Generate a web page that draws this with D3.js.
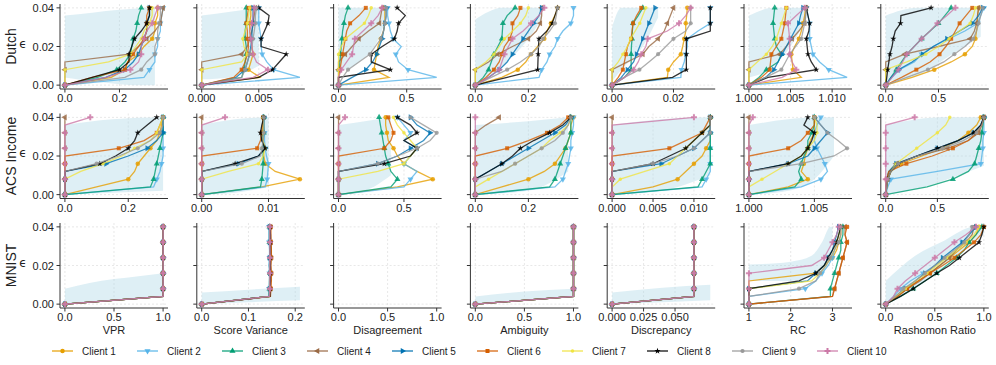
<!DOCTYPE html>
<html>
<head>
<meta charset="utf-8">
<script src="https://cdn.jsdelivr.net/npm/d3@7"></script>
<style>
  body { margin: 0; background: #fff; }
  text { font-family: "Liberation Sans", Arial, sans-serif; fill: #222; }
</style>
</head>
<body>
<div class="container"></div>
<script>
// names
const clients = ["Client 1", "Client 2", "Client 3", "Client 4", "Client 5",
  "Client 6", "Client 7", "Client 8", "Client 9", "Client 10"];
const datasets = ["Dutch", "ACS Income", "MNIST"];
const metrics = ["VPR", "Score Variance", "Disagreement", "Ambiguity", "Discrepancy", "RC", "Rashomon Ratio"];
const epsilons = [0, 0.004, 0.008, 0.012, 0.016, 0.02, 0.024, 0.028, 0.032, 0.036, 0.04];
const yTicks = [0, 0.02, 0.04];
const yTickLabels = ["0.00", "0.02", "0.04"];

// ---- Dutch ----
const dutchVPR = [
  [0, 0.17, 0.22, 0.23, 0.27, 0.29, 0.32, 0.33, 0.33, 0.34, 0.34],
  [0, 0.29, 0.31, 0.33, 0.33, 0.34, 0.34, 0.35, 0.35, 0.355, 0.36],
  [0, 0.12, 0.19, 0.22, 0.24, 0.245, 0.25, 0.26, 0.265, 0.27, 0.28],
  [0, 0, 0, 0, 0.236, 0.27, 0.30, 0.33, 0.35, 0.355, 0.36],
  [0, 0.15, 0.22, 0.25, 0.27, 0.28, 0.29, 0.30, 0.30, 0.31, 0.31],
  [0, 0.10, 0.22, 0.23, 0.25, 0.27, 0.29, 0.30, 0.30, 0.30, 0.31],
  [0, 0, 0, 0.16, 0.24, 0.26, 0.28, 0.29, 0.31, 0.32, 0.32],
  [0, 0.10, 0.20, 0.235, 0.235, 0.245, 0.255, 0.28, 0.30, 0.31, 0.31],
  [0, 0.22, 0.28, 0.30, 0.33, 0.33, 0.34, 0.34, 0.345, 0.35, 0.35],
  [0, 0.15, 0.24, 0.27, 0.28, 0.28, 0.29, 0.30, 0.32, 0.33, 0.34]
];
const dutchSV = [
  [0, 0.0051, 0.0041, 0.0043, 0.0045, 0.0044, 0.0043, 0.0042, 0.0042, 0.0043, 0.0043],
  [0, 0.0086, 0.0063, 0.0057, 0.0053, 0.0052, 0.0052, 0.0051, 0.005, 0.005, 0.005],
  [0, 0.0035, 0.0037, 0.0038, 0.0039, 0.0039, 0.0038, 0.0038, 0.0039, 0.0039, 0.0039],
  [0, 0, 0, 0, 0.0035, 0.004, 0.0042, 0.0044, 0.0045, 0.0046, 0.0047],
  [0, 0.003, 0.0038, 0.004, 0.0042, 0.0043, 0.0044, 0.0044, 0.0045, 0.0045, 0.0045],
  [0, 0.0028, 0.0035, 0.0038, 0.004, 0.0041, 0.004, 0.004, 0.0039, 0.004, 0.0041],
  [0, 0, 0, 0.0035, 0.004, 0.0037, 0.0036, 0.0038, 0.004, 0.0041, 0.0042],
  [0, 0.005, 0.0062, 0.0068, 0.0074, 0.0052, 0.0052, 0.0055, 0.0058, 0.0059, 0.005],
  [0, 0.0035, 0.0038, 0.004, 0.0042, 0.0044, 0.0045, 0.0046, 0.0047, 0.0047, 0.0048],
  [0, 0.0045, 0.0058, 0.0048, 0.0045, 0.0044, 0.0043, 0.0042, 0.0044, 0.0045, 0.0046]
];
const dutchDis = [
  [0, 0.37, 0.26, 0.27, 0.28, 0.29, 0.31, 0.33, 0.34, 0.34, 0.34],
  [0, 0.72, 0.51, 0.44, 0.42, 0.46, 0.40, 0.38, 0.37, 0.36, 0.36],
  [0, 0, 0.005, 0.01, 0.015, 0.02, 0.025, 0.03, 0.04, 0.05, 0.07],
  [0, 0, 0, 0, 0.05, 0.10, 0.15, 0.22, 0.30, 0.31, 0.32],
  [0, 0.10, 0.20, 0.25, 0.28, 0.30, 0.32, 0.33, 0.34, 0.35, 0.35],
  [0, 0, 0.01, 0.02, 0.03, 0.04, 0.05, 0.06, 0.085, 0.15, 0.20],
  [0, 0, 0, 0, 0, 0.02, 0.05, 0.12, 0.19, 0.22, 0.24],
  [0, 0, 0.38, 0.24, 0.24, 0.32, 0.41, 0.43, 0.44, 0.49, 0.43],
  [0, 0.03, 0.07, 0.15, 0.23, 0.27, 0.31, 0.33, 0.34, 0.35, 0.35],
  [0, 0, 0.02, 0.06, 0.10, 0.11, 0.12, 0.18, 0.24, 0.29, 0.32]
];
const dutchAmb = [
  [0, 0.10, 0.16, 0.19, 0.21, 0.235, 0.26, 0.27, 0.285, 0.30, 0.31],
  [0, 0.24, 0.25, 0.27, 0.28, 0.30, 0.31, 0.33, 0.36, 0.37, 0.37],
  [0, 0.03, 0.05, 0.06, 0.07, 0.085, 0.10, 0.102, 0.104, 0.12, 0.15],
  [0, 0, 0, 0.05, 0.085, 0.14, 0.20, 0.23, 0.245, 0.25, 0.25],
  [0, 0.05, 0.09, 0.12, 0.14, 0.16, 0.18, 0.20, 0.22, 0.24, 0.25],
  [0, 0.04, 0.07, 0.09, 0.10, 0.11, 0.13, 0.14, 0.14, 0.16, 0.17],
  [0, 0, 0, 0.04, 0.07, 0.09, 0.11, 0.14, 0.17, 0.19, 0.20],
  [0, 0.12, 0.235, 0.236, 0.237, 0.238, 0.24, 0.27, 0.29, 0.30, 0.31],
  [0, 0.06, 0.12, 0.17, 0.21, 0.24, 0.255, 0.28, 0.30, 0.305, 0.31],
  [0, 0.05, 0.09, 0.10, 0.11, 0.125, 0.14, 0.18, 0.21, 0.24, 0.26]
];
const dutchDisc = [
  [0, 0.018, 0.0183, 0.02, 0.0224, 0.023, 0.0235, 0.024, 0.024, 0.0243, 0.0245],
  [0, 0.0224, 0.0226, 0.0235, 0.024, 0.0245, 0.0245, 0.028, 0.032, 0.032, 0.032],
  [0, 0.004, 0.0062, 0.0062, 0.0062, 0.0063, 0.0065, 0.0066, 0.0068, 0.0085, 0.010],
  [0, 0, 0, 0.005, 0.010, 0.012, 0.015, 0.017, 0.018, 0.019, 0.020],
  [0, 0.003, 0.005, 0.007, 0.008, 0.009, 0.010, 0.011, 0.012, 0.013, 0.014],
  [0, 0.002, 0.0035, 0.004, 0.0045, 0.005, 0.0062, 0.0065, 0.0068, 0.008, 0.0095],
  [0, 0, 0, 0.002, 0.0035, 0.005, 0.006, 0.0075, 0.009, 0.010, 0.011],
  [0, 0.0197, 0.0242, 0.0242, 0.0242, 0.0242, 0.0242, 0.032, 0.032, 0.032, 0.032],
  [0, 0.004, 0.0089, 0.012, 0.015, 0.0175, 0.020, 0.024, 0.0256, 0.0256, 0.0256],
  [0, 0.004, 0.007, 0.0085, 0.0095, 0.011, 0.0116, 0.018, 0.0218, 0.024, 0.0256]
];
const dutchRC = [
  [1, 1.0063, 1.0053, 1.0052, 1.0051, 1.0055, 1.006, 1.0063, 1.0065, 1.0067, 1.0068],
  [1, 1.0118, 1.0096, 1.0085, 1.0077, 1.0075, 1.0073, 1.0073, 1.0073, 1.0071, 1.0069],
  [1, 1.0012, 1.0021, 1.0035, 1.0039, 1.0033, 1.0031, 1.003, 1.0029, 1.003, 1.0031],
  [1, 1, 1, 1, 1.0037, 1.0045, 1.0052, 1.006, 1.0067, 1.0068, 1.0069],
  [1, 1.002, 1.003, 1.0035, 1.004, 1.0045, 1.005, 1.0055, 1.006, 1.0062, 1.0065],
  [1, 1.0015, 1.0025, 1.0026, 1.0027, 1.0033, 1.0039, 1.0041, 1.0043, 1.0044, 1.0045],
  [1, 1, 1, 1.001, 1.0021, 1.0028, 1.0033, 1.0036, 1.0039, 1.0042, 1.0045],
  [1, 1.0023, 1.0081, 1.0075, 1.0071, 1.007, 1.0069, 1.0072, 1.0073, 1.0071, 1.0069],
  [1, 1.002, 1.0039, 1.0044, 1.0049, 1.0056, 1.0063, 1.0065, 1.0067, 1.0068, 1.0069],
  [1, 1.004, 1.0057, 1.0052, 1.0049, 1.0049, 1.0049, 1.0048, 1.0047, 1.0057, 1.0067]
];
const dutchRR = [
  [0, 0.25, 0.46, 0.62, 0.75, 0.82, 0.85, 0.86, 0.87, 0.87, 0.88],
  [0, 0.06, 0.13, 0.27, 0.34, 0.45, 0.60, 0.75, 0.87, 0.90, 0.93],
  [0, 0.05, 0.10, 0.15, 0.20, 0.27, 0.34, 0.42, 0.50, 0.56, 0.62],
  [0, 0, 0, 0, 0.18, 0.50, 0.80, 0.84, 0.86, 0.87, 0.88],
  [0, 0.05, 0.12, 0.25, 0.35, 0.45, 0.58, 0.70, 0.82, 0.88, 0.92],
  [0, 0.15, 0.29, 0.42, 0.51, 0.57, 0.62, 0.66, 0.70, 0.76, 0.82],
  [0, 0, 0, 0.20, 0.38, 0.50, 0.60, 0.70, 0.80, 0.83, 0.85],
  [0, 0.01, 0.019, 0.03, 0.04, 0.06, 0.072, 0.09, 0.14, 0.144, 0.43],
  [0, 0.20, 0.40, 0.55, 0.65, 0.75, 0.83, 0.86, 0.88, 0.90, 0.92],
  [0, 0.06, 0.12, 0.16, 0.20, 0.27, 0.34, 0.42, 0.49, 0.58, 0.66]
];

// ---- ACS Income ----
const acsVPR = [
  [0, 0.10, 0.20, 0.22, 0.23, 0.25, 0.27, 0.29, 0.30, 0.305, 0.31],
  [0, 0.28, 0.29, 0.30, 0.305, 0.31, 0.31, 0.31, 0.31, 0.31, 0.31],
  [0, 0.27, 0.28, 0.285, 0.29, 0.295, 0.30, 0.305, 0.31, 0.31, 0.31],
  [0, 0, 0, 0, 0, 0, 0, 0, 0, 0, 0],
  [0, 0, 0, 0, 0.13, 0.20, 0.26, 0.29, 0.31, 0.31, 0.31],
  [0, 0, 0, 0, 0, 0, 0.17, 0.25, 0.29, 0.30, 0.31],
  [0, 0, 0, 0.05, 0.12, 0.18, 0.22, 0.27, 0.29, 0.30, 0.31],
  [0, 0, 0, 0, 0.11, 0.16, 0.20, 0.22, 0.23, 0.26, 0.29],
  [0, 0, 0, 0, 0.10, 0.17, 0.23, 0.27, 0.30, 0.31, 0.31],
  [0, 0, 0, 0, 0, 0, 0, 0, 0, 0, 0.08]
];
const acsSV = [
  [0, 0.009, 0.0147, 0.011, 0.0095, 0.0093, 0.0092, 0.0092, 0.0092, 0.0092, 0.0092],
  [0, 0.0095, 0.0098, 0.0099, 0.010, 0.0097, 0.0095, 0.0094, 0.0094, 0.0093, 0.0093],
  [0, 0.0088, 0.009, 0.0091, 0.0092, 0.0092, 0.0092, 0.0092, 0.0093, 0.0093, 0.0093],
  [0, 0, 0, 0, 0, 0, 0, 0, 0, 0, 0],
  [0, 0, 0, 0, 0.0055, 0.0085, 0.0095, 0.009, 0.0092, 0.0092, 0.0093],
  [0, 0, 0, 0, 0, 0, 0.0083, 0.0088, 0.009, 0.0091, 0.0092],
  [0, 0, 0, 0.004, 0.0085, 0.0092, 0.0095, 0.0092, 0.0092, 0.0092, 0.0092],
  [0, 0, 0, 0, 0.005, 0.0085, 0.0095, 0.009, 0.0088, 0.009, 0.0093],
  [0, 0, 0, 0, 0.006, 0.0088, 0.009, 0.0092, 0.0093, 0.0093, 0.0093],
  [0, 0, 0, 0, 0, 0, 0, 0, 0, 0, 0.0035]
];
const acsDis = [
  [0, 0.45, 0.72, 0.60, 0.50, 0.45, 0.42, 0.38, 0.37, 0.36, 0.36],
  [0, 0.50, 0.55, 0.60, 0.50, 0.55, 0.60, 0.50, 0.55, 0.50, 0.45],
  [0, 0.40, 0.45, 0.40, 0.38, 0.36, 0.35, 0.34, 0.33, 0.32, 0.31],
  [0, 0, 0, 0, 0, 0, 0, 0, 0, 0, 0],
  [0, 0, 0, 0, 0.30, 0.45, 0.55, 0.65, 0.70, 0.60, 0.55],
  [0, 0, 0, 0, 0, 0, 0.35, 0.40, 0.42, 0.40, 0.38],
  [0, 0, 0, 0.30, 0.50, 0.55, 0.60, 0.55, 0.50, 0.45, 0.42],
  [0, 0, 0, 0, 0.35, 0.55, 0.60, 0.50, 0.60, 0.55, 0.45],
  [0, 0, 0, 0, 0.30, 0.45, 0.60, 0.70, 0.75, 0.65, 0.55],
  [0, 0, 0, 0, 0, 0, 0, 0, 0, 0, 0.05]
];
const acsAmb = [
  [0, 0.10, 0.20, 0.26, 0.30, 0.32, 0.34, 0.35, 0.36, 0.36, 0.37],
  [0, 0.30, 0.33, 0.34, 0.35, 0.355, 0.36, 0.36, 0.365, 0.37, 0.37],
  [0, 0.28, 0.30, 0.31, 0.32, 0.33, 0.34, 0.35, 0.36, 0.36, 0.36],
  [0, 0, 0, 0, 0, 0, 0, 0, 0, 0.04, 0.09],
  [0, 0, 0, 0.05, 0.10, 0.15, 0.20, 0.25, 0.30, 0.34, 0.36],
  [0, 0, 0, 0, 0, 0, 0.12, 0.20, 0.27, 0.32, 0.35],
  [0, 0, 0.05, 0.10, 0.15, 0.20, 0.25, 0.28, 0.32, 0.35, 0.36],
  [0, 0, 0, 0.05, 0.10, 0.14, 0.17, 0.22, 0.28, 0.33, 0.36],
  [0, 0, 0, 0.10, 0.15, 0.20, 0.25, 0.30, 0.33, 0.35, 0.36],
  [0, 0, 0, 0, 0, 0, 0, 0, 0, 0, 0]
];
const acsDisc = [
  [0, 0.005, 0.008, 0.009, 0.010, 0.011, 0.0115, 0.012, 0.012, 0.012, 0.012],
  [0, 0.011, 0.0115, 0.012, 0.012, 0.012, 0.012, 0.012, 0.012, 0.012, 0.012],
  [0, 0.0105, 0.011, 0.0115, 0.012, 0.012, 0.012, 0.012, 0.012, 0.012, 0.012],
  [0, 0, 0, 0, 0, 0, 0, 0, 0, 0, 0],
  [0, 0, 0, 0, 0.006, 0.008, 0.010, 0.011, 0.012, 0.012, 0.012],
  [0, 0, 0, 0, 0, 0, 0.007, 0.009, 0.011, 0.0115, 0.012],
  [0, 0, 0.001, 0.004, 0.007, 0.008, 0.009, 0.010, 0.011, 0.012, 0.012],
  [0, 0, 0, 0, 0.005, 0.007, 0.009, 0.010, 0.011, 0.012, 0.012],
  [0, 0, 0, 0, 0.005, 0.008, 0.010, 0.011, 0.012, 0.012, 0.012],
  [0, 0, 0, 0, 0, 0, 0, 0, 0, 0, 0.010]
];
const acsRC = [
  [1, 1.003, 1.0045, 1.004, 1.0042, 1.0043, 1.0045, 1.0047, 1.005, 1.005, 1.005],
  [1, 1.004, 1.0055, 1.006, 1.0058, 1.0055, 1.0052, 1.005, 1.005, 1.0052, 1.0055],
  [1, 1.0035, 1.004, 1.0038, 1.004, 1.0042, 1.0045, 1.0045, 1.0048, 1.005, 1.005],
  [1, 1, 1, 1, 1, 1, 1, 1, 1, 1, 1],
  [1, 1, 1, 1, 1.003, 1.0045, 1.005, 1.0055, 1.006, 1.0055, 1.005],
  [1, 1, 1, 1, 1, 1, 1.003, 1.004, 1.0045, 1.005, 1.005],
  [1, 1, 1.001, 1.002, 1.003, 1.004, 1.0045, 1.005, 1.0052, 1.0052, 1.005],
  [1, 1, 1, 1, 1.003, 1.004, 1.0045, 1.0048, 1.005, 1.0042, 1.0045],
  [1, 1, 1, 1, 1.004, 1.0065, 1.0075, 1.0068, 1.006, 1.0055, 1.005],
  [1, 1, 1, 1, 1, 1, 1, 1, 1, 1, 1.0003]
];
const acsRR = [
  [0, 0.01, 0.02, 0.05, 0.15, 0.35, 0.55, 0.70, 0.80, 0.88, 0.92],
  [0, 0.02, 0.05, 0.50, 0.92, 0.93, 0.94, 0.94, 0.95, 0.95, 0.95],
  [0, 0.40, 0.65, 0.80, 0.86, 0.88, 0.90, 0.92, 0.93, 0.94, 0.95],
  [0, 0, 0.01, 0.03, 0.10, 0.30, 0.60, 0.80, 0.90, 0.93, 0.95],
  [0, 0, 0.01, 0.03, 0.10, 0.30, 0.50, 0.70, 0.85, 0.92, 0.95],
  [0, 0, 0.01, 0.03, 0.20, 0.45, 0.65, 0.80, 0.88, 0.93, 0.95],
  [0, 0.01, 0.02, 0.05, 0.10, 0.20, 0.30, 0.40, 0.50, 0.58, 0.62],
  [0, 0.01, 0.02, 0.05, 0.12, 0.30, 0.50, 0.70, 0.85, 0.92, 0.95],
  [0, 0.01, 0.02, 0.05, 0.12, 0.30, 0.55, 0.75, 0.88, 0.93, 0.95],
  [0, 0, 0, 0, 0, 0, 0, 0, 0, 0, 0.28]
];

// ---- MNIST ----
const mnistFlatLine = [0, 1, 1, 1, 1, 1, 1, 1, 1, 1, 1];
const mnistVPR = [mnistFlatLine, mnistFlatLine, mnistFlatLine, mnistFlatLine, mnistFlatLine,
  mnistFlatLine, mnistFlatLine, mnistFlatLine, mnistFlatLine, mnistFlatLine];
const mnistSV = [
  [0, 0.145, 0.146, 0.147, 0.147, 0.146, 0.147, 0.148, 0.147, 0.146, 0.145],
  [0, 0.143, 0.144, 0.145, 0.145, 0.144, 0.145, 0.145, 0.144, 0.144, 0.144],
  [0, 0.144, 0.145, 0.145, 0.146, 0.145, 0.146, 0.146, 0.145, 0.145, 0.145],
  [0, 0.146, 0.147, 0.148, 0.148, 0.147, 0.148, 0.149, 0.148, 0.147, 0.147],
  [0, 0.144, 0.145, 0.146, 0.146, 0.145, 0.145, 0.146, 0.145, 0.145, 0.145],
  [0, 0.147, 0.148, 0.149, 0.149, 0.148, 0.149, 0.149, 0.148, 0.148, 0.148],
  [0, 0.145, 0.145, 0.146, 0.146, 0.146, 0.146, 0.147, 0.146, 0.146, 0.146],
  [0, 0.146, 0.146, 0.147, 0.147, 0.147, 0.147, 0.147, 0.147, 0.147, 0.146],
  [0, 0.144, 0.145, 0.145, 0.145, 0.145, 0.146, 0.146, 0.145, 0.145, 0.145],
  [0, 0.145, 0.146, 0.146, 0.146, 0.146, 0.146, 0.146, 0.146, 0.146, 0.146]
];
const mnistDis = [];
const mnistAmb = mnistVPR;
const mnistDiscLine = [0, 0.065, 0.065, 0.065, 0.065, 0.065, 0.065, 0.065, 0.065, 0.065, 0.065];
const mnistDisc = [mnistDiscLine, mnistDiscLine, mnistDiscLine, mnistDiscLine, mnistDiscLine,
  mnistDiscLine, mnistDiscLine, mnistDiscLine, mnistDiscLine, mnistDiscLine];
const mnistRC = [
  [1, 1, 1, 1, 2.6, 2.8, 3.0, 3.1, 3.15, 3.2, 3.2],
  [1, 1, 2.35, 2.6, 2.75, 2.9, 3.0, 3.05, 3.1, 3.15, 3.2],
  [1, 2.95, 2.95, 3.0, 3.05, 3.1, 3.15, 3.2, 3.2, 3.25, 3.25],
  [1, 3.0, 3.05, 3.1, 3.15, 3.2, 3.25, 3.3, 3.35, 3.3, 3.3],
  [1, 1, 1, 2.4, 2.6, 2.8, 2.9, 3.0, 3.05, 3.1, 3.15],
  [1, 3.0, 3.05, 3.1, 3.15, 3.2, 3.25, 3.3, 3.35, 3.3, 3.35],
  [1, 1, 1, 2.5, 2.7, 2.85, 2.95, 3.05, 3.1, 3.15, 3.2],
  [1, 1, 1, 2.2, 2.6, 2.8, 2.9, 3.0, 3.1, 3.15, 3.2],
  [1, 1, 2.2, 2.6, 2.7, 2.85, 2.95, 3.05, 3.15, 3.2, 3.2],
  [1, 1, 1, 1, 1, 2.5, 2.8, 2.9, 3.0, 3.1, 3.15]
];
const mnistRR = [
  [0, 0.10, 0.20, 0.33, 0.45, 0.55, 0.65, 0.75, 0.85, 0.92, 0.95],
  [0, 0.08, 0.15, 0.25, 0.38, 0.50, 0.62, 0.72, 0.78, 0.85, 0.90],
  [0, 0.15, 0.28, 0.40, 0.52, 0.62, 0.72, 0.80, 0.85, 0.92, 0.98],
  [0, 0.12, 0.22, 0.35, 0.45, 0.55, 0.65, 0.72, 0.82, 0.88, 0.90],
  [0, 0.10, 0.20, 0.30, 0.40, 0.50, 0.58, 0.68, 0.78, 0.85, 0.92],
  [0, 0.12, 0.22, 0.33, 0.45, 0.58, 0.70, 0.80, 0.90, 0.97, 1.0],
  [0, 0.10, 0.20, 0.30, 0.42, 0.52, 0.62, 0.72, 0.82, 0.90, 0.95],
  [0, 0.15, 0.28, 0.40, 0.52, 0.65, 0.75, 0.85, 0.95, 0.98, 1.0],
  [0, 0.10, 0.18, 0.30, 0.40, 0.50, 0.60, 0.70, 0.80, 0.85, 0.88],
  [0, 0.08, 0.12, 0.20, 0.30, 0.40, 0.50, 0.60, 0.70, 0.82, 0.92]
];

// shaded bands: [x values, lower eps, upper eps]
const dutchBands = [
  [[0, 0.1, 0.2, 0.25, 0.33], [0.004, 0.002, 0.0005, 0, 0], [0.036, 0.0375, 0.039, 0.0395, 0.04]],
  [[0, 0.0025, 0.005], [0.003, 0.004, 0.01], [0.036, 0.038, 0.04]],
  [[0, 0.15, 0.3, 0.35], [0.007, 0.012, 0.025, 0.035], [0.04, 0.04, 0.04, 0.04]],
  [[0, 0.05, 0.1, 0.15, 0.2, 0.25], [0.001, 0.004, 0.01, 0.016, 0.024, 0.034], [0.034, 0.038, 0.04, 0.04, 0.04, 0.04]],
  [[0, 0.003, 0.01, 0.015], [0.002, 0.008, 0.02, 0.035], [0.03, 0.04, 0.04, 0.04]],
  [[1, 1.003, 1.005, 1.007], [0.004, 0.01, 0.02, 0.035], [0.036, 0.04, 0.04, 0.04]],
  [[0, 0.3, 0.6, 0.9], [0.002, 0.005, 0.015, 0.025], [0.036, 0.04, 0.04, 0.04]]
];
const acsBands = [
  [[0, 0.15, 0.31], [0, 0.001, 0.002], [0.036, 0.039, 0.04]],
  [[0, 0.005, 0.01], [0, 0.001, 0.004], [0.036, 0.039, 0.04]],
  [[0, 0.2, 0.4], [0, 0.002, 0.01], [0.036, 0.038, 0.04]],
  [[0, 0.2, 0.35], [0, 0.002, 0.012], [0.036, 0.038, 0.04]],
  [[0, 0.006, 0.012], [0, 0.002, 0.01], [0.036, 0.039, 0.04]],
  [[1, 1.003, 1.005, 1.0065], [0, 0.002, 0.008, 0.02], [0.036, 0.039, 0.04, 0.04]],
  [[0, 0.3, 0.6, 0.95], [0, 0.003, 0.008, 0.015], [0.036, 0.039, 0.04, 0.04]]
];
const mnistBands = [
  [[0, 0.25, 0.5, 0.75, 1], [0, 0.001, 0.002, 0.003, 0.004], [0.008, 0.011, 0.013, 0.0145, 0.016]],
  [[0, 0.1, 0.21], [0, 0.001, 0.002], [0.006, 0.0075, 0.009]],
  null,
  [[0, 0.5, 1], [0, 0.002, 0.004], [0.004, 0.0065, 0.008]],
  [[0, 0.04, 0.078], [0, 0.001, 0.002], [0.006, 0.0085, 0.01]],
  [[1, 2, 2.5, 2.75, 2.95, 3.0], [0.012, 0.012, 0.014, 0.016, 0.025, 0.035], [0.0205, 0.022, 0.025, 0.032, 0.04, 0.04]],
  [[0, 0.3, 0.6, 0.9, 1.0], [0, 0.008, 0.02, 0.032, 0.036], [0.012, 0.025, 0.033, 0.04, 0.04]]
];

// x tick values and labels for every panel, row by row
const xTicks = [
  [[0, 0.2], [0, 0.005], [0, 0.5], [0, 0.2], [0, 0.02], [1, 1.005, 1.01], [0, 0.5]],
  [[0, 0.2], [0, 0.01], [0, 0.5], [0, 0.2], [0, 0.005, 0.01], [1, 1.005], [0, 0.5]],
  [[0, 0.5, 1], [0, 0.1, 0.2], [0, 0.5, 1], [0, 0.5, 1], [0, 0.025, 0.05], [1, 2, 3], [0, 0.5, 1]]
];
const xTickLabels = [
  [["0.0", "0.2"], ["0.000", "0.005"], ["0.0", "0.5"], ["0.0", "0.2"], ["0.00", "0.02"], ["1.000", "1.005", "1.010"], ["0.0", "0.5"]],
  [["0.0", "0.2"], ["0.00", "0.01"], ["0.0", "0.5"], ["0.0", "0.2"], ["0.000", "0.005", "0.010"], ["1.000", "1.005"], ["0.0", "0.5"]],
  [["0.0", "0.5", "1.0"], ["0.0", "0.1", "0.2"], ["0.0", "0.5", "1.0"], ["0.0", "0.5", "1.0"], ["0.000", "0.025", "0.050"], ["1", "2", "3"], ["0.0", "0.5", "1.0"]]
];

const series = [
  [dutchVPR, dutchSV, dutchDis, dutchAmb, dutchDisc, dutchRC, dutchRR],
  [acsVPR, acsSV, acsDis, acsAmb, acsDisc, acsRC, acsRR],
  [mnistVPR, mnistSV, mnistDis, mnistAmb, mnistDisc, mnistRC, mnistRR]
];
const bands = [dutchBands, acsBands, mnistBands];

// ---- styles ----
const colors = ["#E69F00", "#56B4E9", "#009E73", "#9A6A45", "#0072B2",
  "#D55E00", "#F0E442", "#000000", "#999999", "#CC79A7"];
const symbols = [d3.symbolCircle, d3.symbolTriangle, d3.symbolTriangle, d3.symbolTriangle, d3.symbolTriangle,
  d3.symbolSquare, d3.symbolCircle, d3.symbolStar, d3.symbolCircle, d3.symbolCross];
const rotations = [0, 180, 0, -90, 90, 0, 0, 0, 0, 0];
const symbolSizes = [16, 16, 16, 16, 16, 16, 10, 12, 14, 20];

const width = 996;
const height = 365;
const panelW = 108;
const panelH = 85;
const colLeft = (c) => 60 + 136.8 * c;
const rowTop = [4, 113.5, 223];

const svg = d3.select(".container")
  .append("svg")
  .attr("width", width)
  .attr("height", height);

const y = d3.scaleLinear().domain([-0.002, 0.042]).range([panelH, 0]);

datasets.forEach((dataset, r) => {
  // row label and epsilon label
  svg.append("text")
    .attr("transform", `translate(11, ${rowTop[r] + panelH / 2}) rotate(-90)`)
    .attr("text-anchor", "middle")
    .attr("dominant-baseline", "central")
    .style("font-size", "14px")
    .text(dataset);
  svg.append("text")
    .attr("x", 23)
    .attr("y", rowTop[r] + panelH / 2 - 3)
    .attr("text-anchor", "middle")
    .attr("dominant-baseline", "central")
    .style("font-family", "DejaVu Sans")
    .style("font-size", "12px")
    .text("\u03F5");

  metrics.forEach((metric, c) => {
    const lines = series[r][c];
    const band = bands[r][c];
    const g = svg.append("g").attr("transform", `translate(${colLeft(c)}, ${rowTop[r]})`);

    // x domain from data with 5% margins
    let allX = lines.flat();
    if (band) allX = allX.concat(band[0]);
    let [x0, x1] = allX.length ? d3.extent(allX) : [0, 1];
    const pad = (x1 - x0) * 0.05;
    const x = d3.scaleLinear().domain([x0 - pad, x1 + pad]).range([0, panelW]);

    // grid
    g.selectAll(".gx").data(xTicks[r][c]).enter().append("line")
      .attr("x1", (d) => x(d)).attr("x2", (d) => x(d))
      .attr("y1", 0).attr("y2", panelH)
      .attr("stroke", "#d8d8d8").attr("stroke-width", 0.6).attr("stroke-dasharray", "2,2");
    g.selectAll(".gy").data(yTicks).enter().append("line")
      .attr("x1", 0).attr("x2", panelW)
      .attr("y1", (d) => y(d)).attr("y2", (d) => y(d))
      .attr("stroke", "#d8d8d8").attr("stroke-width", 0.6).attr("stroke-dasharray", "2,2");

    // band
    if (band) {
      const pts = band[0].map((v, i) => ({ x: v, lo: band[1][i], hi: band[2][i] }));
      g.append("path")
        .datum(pts)
        .attr("d", d3.area().x((d) => x(d.x)).y0((d) => y(d.lo)).y1((d) => y(d.hi)).curve(d3.curveMonotoneX))
        .attr("fill", "#add8e6")
        .attr("fill-opacity", 0.4);
    }

    // client lines
    lines.forEach((vals, k) => {
      const pts = vals.map((v, i) => [v, epsilons[i]]);
      g.append("path")
        .datum(pts)
        .attr("d", d3.line().x((d) => x(d[0])).y((d) => y(d[1])))
        .attr("fill", "none")
        .attr("stroke", colors[k])
        .attr("stroke-width", 1.3)
        .attr("stroke-opacity", 0.8);
      g.selectAll(null)
        .data(pts.filter((d, i) => i % 2 === 0))
        .enter()
        .append("path")
        .attr("d", d3.symbol().type(symbols[k]).size(symbolSizes[k]))
        .attr("transform", (d) => `translate(${x(d[0])}, ${y(d[1])}) rotate(${rotations[k]})`)
        .attr("fill", colors[k])
        .attr("fill-opacity", 0.85);
    });

    // spines and ticks
    g.append("line").attr("x1", 0).attr("x2", 0).attr("y1", 0).attr("y2", panelH)
      .attr("stroke", "#333").attr("stroke-width", 1);
    g.append("line").attr("x1", 0).attr("x2", panelW).attr("y1", panelH).attr("y2", panelH)
      .attr("stroke", "#333").attr("stroke-width", 1);
    g.selectAll(".ty").data(yTicks).enter().append("line")
      .attr("x1", -3.5).attr("x2", 0)
      .attr("y1", (d) => y(d)).attr("y2", (d) => y(d))
      .attr("stroke", "#333");
    g.selectAll(".tx").data(xTicks[r][c]).enter().append("line")
      .attr("x1", (d) => x(d)).attr("x2", (d) => x(d))
      .attr("y1", panelH).attr("y2", panelH + 3.5)
      .attr("stroke", "#333");

    g.selectAll(".lx").data(xTicks[r][c]).enter().append("text")
      .attr("x", (d) => x(d))
      .attr("y", panelH + 13)
      .attr("text-anchor", "middle")
      .style("font-size", "11px")
      .text((d, i) => xTickLabels[r][c][i]);

    if (c === 0) {
      g.selectAll(".ly").data(yTicks).enter().append("text")
        .attr("x", -6)
        .attr("y", (d) => y(d))
        .attr("text-anchor", "end")
        .attr("dominant-baseline", "central")
        .style("font-size", "11px")
        .text((d, i) => yTickLabels[i]);
    }
    if (r === 2) {
      g.append("text")
        .attr("x", panelW / 2)
        .attr("y", panelH + 26)
        .attr("text-anchor", "middle")
        .style("font-size", "11px")
        .text(metric);
    }
  });
});

// legend
const legend = svg.append("g").attr("transform", "translate(0, 351)");
clients.forEach((name, k) => {
  const lx = 52 + 85 * k;
  legend.append("line")
    .attr("x1", lx).attr("x2", lx + 21)
    .attr("stroke", colors[k]).attr("stroke-width", 1.5).attr("stroke-opacity", 0.8);
  legend.append("path")
    .attr("d", d3.symbol().type(symbols[k]).size(symbolSizes[k]))
    .attr("transform", `translate(${lx + 10.5}, 0) rotate(${rotations[k]})`)
    .attr("fill", colors[k]);
  legend.append("text")
    .attr("x", lx + 30)
    .attr("y", 0)
    .attr("dominant-baseline", "central")
    .style("font-size", "10px")
    .text(name);
});
</script>
</body>
</html>
